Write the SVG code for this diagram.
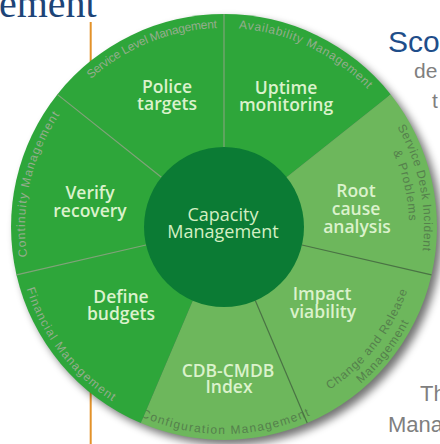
<svg xmlns="http://www.w3.org/2000/svg" width="440" height="444" viewBox="0 0 440 444">
  <defs>
    <style>
      .dark { fill: #2ea63a; }
      .light { fill: #6db75c; }
      .lbl { font-family: "Open Sans", "Liberation Sans", sans-serif; font-weight: 600; font-size: 17.5px; fill: #dbf2cc; text-anchor: middle; }
      .hub { font-family: "Open Sans", "Liberation Sans", sans-serif; font-weight: 400; font-size: 18px; fill: #d3efc3; text-anchor: middle; }
      .ring { font-family: "Liberation Sans", Arial, sans-serif; font-size: 12px; }
      .ring-on-dark { fill: #94ad8d; }
      .ring-on-light { fill: #55804c; }
      .div-soft { stroke: #7fa478; stroke-width: 1.2; }
      .div-hard { stroke: #4a7444; stroke-width: 1.2; }
      .side { font-family: "Liberation Sans", Arial, sans-serif; fill: #7f7f7f; }
    </style>
    <filter id="wheelShadow" x="-10%" y="-10%" width="125%" height="125%">
      <feGaussianBlur stdDeviation="4"/>
    </filter>
    <!-- arcs used as baselines for the rim captions -->
    <path id="arcSLM" d="M57.1,118.6 A199,199 0 0 1 268.8,33.1"/>
    <path id="arcAvail" d="M190.5,30.8 A199,199 0 0 1 396.9,128.4"/>
    <path id="arcCont" d="M39.5,301.5 A199,199 0 0 1 90.8,79.1"/>
    <path id="arcSD1" d="M361.7,81.9 A200,200 0 0 1 407.4,306.7"/>
    <path id="arcSD2" d="M348.3,90 A185,185 0 0 1 395.3,296.9"/>
    <path id="arcFin" d="M17.2,236 A207,207 0 0 0 161.8,424.4"/>
    <path id="arcCfg" d="M106.8,397.6 A207,207 0 0 0 344.2,395.5"/>
    <path id="arcChg1" d="M280.7,412.5 A194,194 0 0 0 417.7,237.2"/>
    <path id="arcChg2" d="M284.8,425.9 A208,208 0 0 0 431.7,237.9"/>
  </defs>

  <rect width="440" height="444" fill="#ffffff"/>

  <!-- slide fragments around the wheel -->
  <g id="slide-text">
    <text x="-1" y="17" font-family="Liberation Serif, Times New Roman, serif" font-size="40" fill="#1d4477">ement</text>
    <text x="388" y="52" font-family="Liberation Sans, Arial, sans-serif" font-size="30" fill="#1f4e8a">Sco</text>
    <text class="side" x="414" y="78" font-size="21">de</text>
    <text class="side" x="432" y="108" font-size="21">t</text>
    <text class="side" x="420" y="401" font-size="22">Th</text>
    <text class="side" x="388" y="432" font-size="22">Mana</text>
  </g>
  <line x1="90.7" y1="22" x2="90.7" y2="444" stroke="#e3922a" stroke-width="2"/>

  <!-- drop shadow of the wheel -->
  <circle cx="229" cy="232" r="213" fill="#000" opacity="0.55" filter="url(#wheelShadow)"/>

  <!-- sectors -->
  <g id="sector-uptime">
    <path class="dark" d="M224,227 L224,14 A213,213 0 0 1 390.7,94.4 Z"/>
    <text class="ring ring-on-dark" letter-spacing="0.7"><textPath href="#arcAvail" startOffset="50%" text-anchor="middle">Availability Management</textPath></text>
    <text class="lbl" x="286" y="94">Uptime</text>
    <text class="lbl" x="286" y="111">monitoring</text>
  </g>
  <g id="sector-root-cause">
    <path class="light" d="M224,227 L390.7,94.4 A213,213 0 0 1 431.5,274.9 Z"/>
    <text class="ring ring-on-light" letter-spacing="0.6"><textPath href="#arcSD1" startOffset="50%" text-anchor="middle">Service Desk Incident</textPath></text>
    <text class="ring ring-on-light" letter-spacing="1"><textPath href="#arcSD2" startOffset="50%" text-anchor="middle">&amp; Problems</textPath></text>
    <text class="lbl" x="356" y="197">Root</text>
    <text class="lbl" x="356" y="215">cause</text>
    <text class="lbl" x="357" y="233">analysis</text>
  </g>
  <g id="sector-impact">
    <path class="light" d="M224,227 L431.5,274.9 A213,213 0 0 1 307.2,423.1 Z"/>
    <text class="ring ring-on-light" letter-spacing="0.9"><textPath href="#arcChg1" startOffset="50%" text-anchor="middle">Change and Release</textPath></text>
    <text class="ring ring-on-light" letter-spacing="0.9"><textPath href="#arcChg2" startOffset="50%" text-anchor="middle">Management</textPath></text>
    <text class="lbl" x="322" y="300">Impact</text>
    <text class="lbl" x="323" y="318">viability</text>
  </g>
  <g id="sector-cdb">
    <path class="light" d="M224,227 L307.2,423.1 A213,213 0 0 1 140.8,423.1 Z"/>
    <text class="ring ring-on-light" letter-spacing="1.3"><textPath href="#arcCfg" startOffset="50%" text-anchor="middle">Configuration Management</textPath></text>
    <text class="lbl" x="228" y="377">CDB-CMDB</text>
    <text class="lbl" x="229" y="393">Index</text>
  </g>
  <g id="sector-budgets">
    <path class="dark" d="M224,227 L140.8,423.1 A213,213 0 0 1 16.5,274.9 Z"/>
    <text class="ring ring-on-dark" letter-spacing="1.2"><textPath href="#arcFin" startOffset="50%" text-anchor="middle">Financial Management</textPath></text>
    <text class="lbl" x="121" y="303">Define</text>
    <text class="lbl" x="121" y="320">budgets</text>
  </g>
  <g id="sector-recovery">
    <path class="dark" d="M224,227 L16.5,274.9 A213,213 0 0 1 57.3,94.4 Z"/>
    <text class="ring ring-on-dark" letter-spacing="1.1"><textPath href="#arcCont" startOffset="50%" text-anchor="middle">Continuity Management</textPath></text>
    <text class="lbl" x="90" y="199">Verify</text>
    <text class="lbl" x="90" y="217">recovery</text>
  </g>
  <g id="sector-police">
    <path class="dark" d="M224,227 L57.3,94.4 A213,213 0 0 1 224,14 Z"/>
    <text class="ring ring-on-dark" letter-spacing="-0.3"><textPath href="#arcSLM" startOffset="50%" text-anchor="middle">Service Level Management</textPath></text>
    <text class="lbl" x="167" y="93">Police</text>
    <text class="lbl" x="167" y="110">targets</text>
  </g>

  <!-- sector dividers -->
  <g id="dividers">
    <line class="div-soft" x1="224" y1="147" x2="224" y2="14"/>
    <line class="div-hard" x1="301.95" y1="245" x2="431.5" y2="274.9"/>
    <line class="div-hard" x1="255.3" y1="300.6" x2="307.2" y2="423.1"/>
    <line class="div-soft" x1="146.05" y1="245" x2="16.5" y2="274.9"/>
    <line class="div-soft" x1="161.4" y1="177.2" x2="57.3" y2="94.4"/>
  </g>

  <!-- hub -->
  <g id="hub">
    <circle cx="224" cy="227" r="80" fill="#0b7b34"/>
    <text class="hub" x="223" y="221">Capacity</text>
    <text class="hub" x="223" y="238">Management</text>
  </g>
</svg>
